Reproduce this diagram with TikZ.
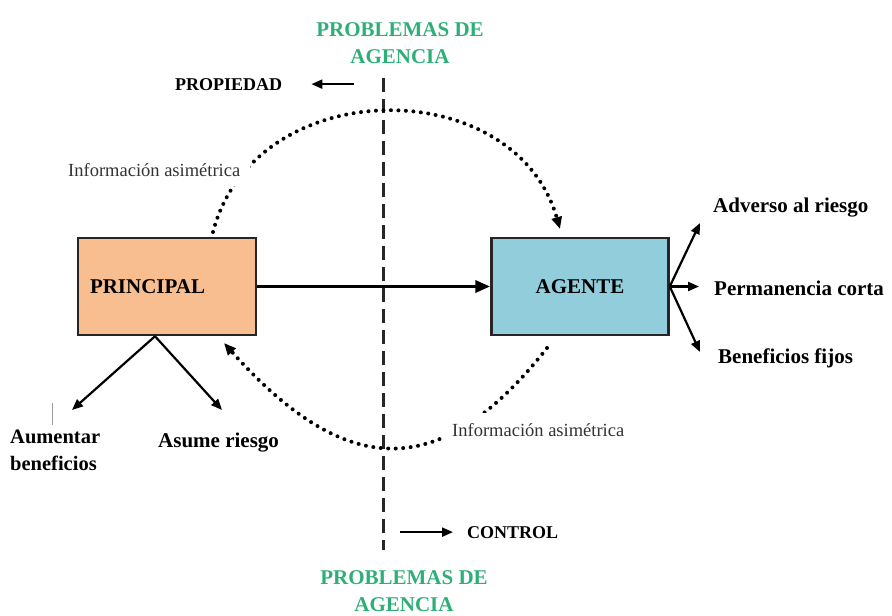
\documentclass[tikz,border=0pt]{standalone}
\usepackage{fontspec}
\setmainfont{Liberation Serif}
\usepackage{tikz}
\usetikzlibrary{arrows.meta}
\definecolor{naranja}{HTML}{F9BE8F}
\definecolor{celeste}{HTML}{92CDDC}
\definecolor{verde}{HTML}{2FAF78}

\begin{document}
\begin{tikzpicture}[
    x=1pt,y=-1pt,
    caja/.style={draw=black!85,line width=2.5pt,minimum width=177pt,minimum height=97pt,
                 font=\fontsize{21}{24}\selectfont\bfseries},
    etiq/.style={anchor=base west,inner sep=0pt,font=\fontsize{21}{27}\selectfont\bfseries},
    menor/.style={anchor=base west,inner sep=0pt,font=\fontsize{18}{22}\selectfont\bfseries},
    titulo/.style={anchor=base,align=center,inner sep=0pt,text=verde,
                   font=\fontsize{21}{27}\selectfont\bfseries},
    info/.style={anchor=base west,fill=white,inner sep=10pt,text=black!80,
                 font=\fontsize{18.5}{22}\selectfont},
    flecha/.style={-{Triangle[length=11pt,width=9pt]},line width=2.2pt},
    punteada/.style={-{Triangle[length=12pt,width=10pt]},line width=4pt,line cap=round,
                     dash pattern=on 0pt off 7.5pt},
  ]
  \useasboundingbox (0,0) rectangle (892,616);

  % titulos y linea divisoria
  \node[titulo] (probA) at (400,63) {PROBLEMAS DE\\AGENCIA};
  \node[titulo] (probB) at (404,611) {PROBLEMAS DE\\AGENCIA};
  \coordinate (divA) at (383,78);
  \coordinate (divB) at (383,550);
  \draw[line width=3pt,black!85,dash pattern=on 14pt off 7pt] (divA) -- (divB);

  \node[menor] (propiedad) at (175,90) {PROPIEDAD};
  \draw[flecha] ([xshift=72pt]propiedad.east) -- ([xshift=29pt]propiedad.east);
  \node[menor] (control) at (467,538) {CONTROL};
  \draw[flecha] ([xshift=-67pt]control.west) -- ([xshift=-14pt]control.west);

  % cajas
  \node[caja,fill=naranja,text width=154pt,inner xsep=12pt,align=left] (principal) at (167,286.5) {PRINCIPAL};
  \node[caja,fill=celeste] (agente) at (580,286.5) {AGENTE};
  \draw[line width=3.5pt,-{Triangle[length=15pt,width=12pt]}] (principal) -- (agente);

  % informacion asimetrica
  \coordinate (arcoA) at (213,232);
  \coordinate (arcoB) at (560,229);
  \coordinate (arcoC) at (547,348);
  \coordinate (arcoD) at (224,343);
  \draw[punteada] (arcoA) .. controls (255,72) and (515,72) .. (arcoB);
  \draw[punteada] (arcoC) .. controls (437,488) and (342,475) .. (arcoD);
  \node[info] (infoA) at (58,176) {Información asimétrica};
  \node[info] (infoB) at (442,436) {Información asimétrica};

  % salidas del agente
  \node[etiq] (adverso) at (713,212) {Adverso al riesgo};
  \node[etiq] (perm) at (714,295) {Permanencia corta};
  \node[etiq] (benef) at (718,363) {Beneficios fijos};
  \coordinate (fAdv) at (700,223);
  \coordinate (fPerm) at (699,286.5);
  \coordinate (fBen) at (700,352);
  \draw[flecha] (agente.east) -- (fAdv);
  \draw[flecha] (agente.east) -- (fPerm);
  \draw[flecha] (agente.east) -- (fBen);

  % salidas del principal
  \node[etiq,font=\fontsize{20.5}{27}\selectfont\bfseries,align=left] (aumentar) at (10,470) {Aumentar\\beneficios};
  \node[etiq] (asume) at (158,447) {Asume riesgo};
  \coordinate (fAum) at (72,410);
  \coordinate (fAsu) at (222,410);
  \draw[flecha] ([xshift=-12pt]principal.south) -- (fAum);
  \draw[flecha] ([xshift=-12pt]principal.south) -- (fAsu);
  \coordinate (trazoA) at (52,403);
  \coordinate (trazoB) at (52,425);
  \draw[black!40,line width=0.6pt] (trazoA) -- (trazoB);
\end{tikzpicture}
\end{document}
